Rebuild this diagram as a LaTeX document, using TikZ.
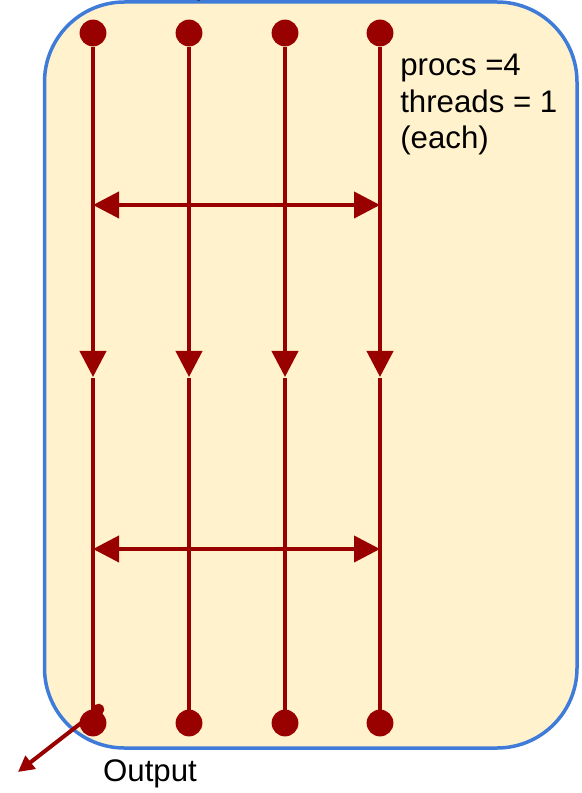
\documentclass[tikz,border=0pt]{standalone}
\usepackage{fontspec}
\setmainfont{Liberation Sans}
\usetikzlibrary{arrows.meta,positioning}
\definecolor{flowred}{HTML}{990000}
\definecolor{panelfill}{HTML}{FFF2CC}
\definecolor{panelblue}{HTML}{3F7BD8}

\begin{document}
\begin{tikzpicture}[
  x=0.025cm,y=-0.025cm,
  font=\fontsize{22.2}{27}\selectfont,
  panel/.style={draw=panelblue,line width=0.0875cm,fill=panelfill,rounded corners=2cm},
  dot/.style={circle,fill=flowred,minimum size=0.67cm,inner sep=0pt},
  flow/.style={draw=flowred,line width=0.1cm},
  tip/.style={-{Triangle[length=0.65cm,width=0.65cm]}},
  both/.style={{Triangle[length=0.65cm,width=0.65cm]}-{Triangle[length=0.65cm,width=0.65cm]}},
  lbl/.style={anchor=base west,inner sep=0pt}
]
\useasboundingbox (0,0) rectangle (581,793);
\draw[panel] (44.5,2) rectangle (577,748);

% label cut by the page edge
\node[anchor=base,inner sep=0pt] (input) at (204,-5) {Input};

% four procs, one line each
\foreach \i/\x in {1/93,2/189,3/285,4/380}{
  \node[dot] (t\i) at (\x,33) {};
  \node[dot] (b\i) at (\x,723) {};
  \coordinate (m\i) at (\x,377);
  \coordinate (n\i) at (\x,378);
  \draw[flow,tip] (t\i) -- (m\i);
  \draw[flow] (n\i) -- (b\i.center);
}

% exchanges between first and last proc
\coordinate (xa) at (93,205);
\coordinate (xb) at (380,205);
\coordinate (ya) at (93,549);
\coordinate (yb) at (380,549);
\draw[flow,both] (xa) -- (xb);
\draw[flow,both] (ya) -- (yb);

\node[lbl] (info1) at (400,76) {procs =4};
\node[lbl] (info2) at (400,113) {threads = 1};
\node[lbl] (info3) at (400,149) {(each)};

% result leaves from proc 1
\coordinate (outs) at (103,706);
\coordinate (oute) at (18,772);
\draw[flow,{Circle[length=0.28cm]}-{Triangle[length=0.4cm,width=0.4cm]}] (outs) -- (oute);
\node[anchor=base,inner sep=0pt] (output) at (150,781) {Output};
\end{tikzpicture}
\end{document}
